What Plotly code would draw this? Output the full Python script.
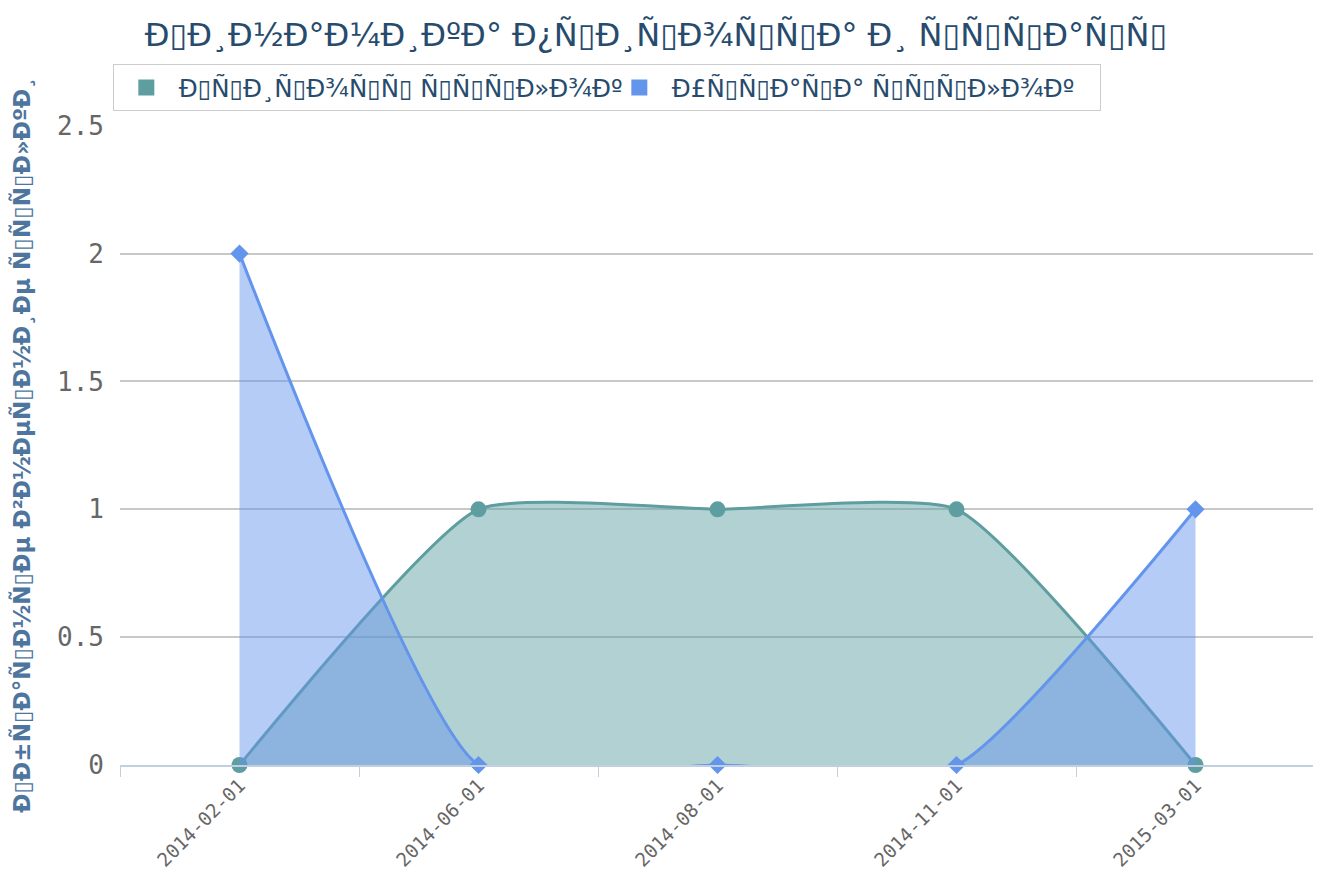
import plotly.graph_objects as go

def moj(s):
    # UTF-8 bytes read as Latin-1; C1 control bytes show as tofu boxes
    out = s.encode("utf-8").decode("latin-1")
    return "".join("\u25af" if 0x80 <= ord(c) <= 0x9f else c for c in out)

categories = ["2014-02-01", "2014-06-01", "2014-08-01", "2014-11-01", "2015-03-01"]
gain_values = [0, 1, 1, 1, 0]
loss_values = [2, 0, 0, 0, 1]
gain_name = moj("Прирост ссылок")
loss_name = moj("Утрата ссылок")
title_l1 = moj("Динамика прироста и утраты")
title_l2 = moj("ссылок")
y_title = moj("Обратные внешние ссылки")
y_ticks = [0, 0.5, 1, 1.5, 2, 2.5]
y_ticktext = ["0", "0.5", "1", "1.5", "2", "2.5"]

TEAL = "#5F9EA0"
BLUE = "#6495ED"
TITLE_COLOR = "#274b6d"

fig = go.Figure()
fig.add_trace(go.Scatter(
    x=categories, y=gain_values, name=gain_name, mode="lines+markers",
    line=dict(color=TEAL, width=3, shape="spline", smoothing=0.5),
    marker=dict(symbol="circle", size=16, color=TEAL),
    fill="tozeroy", fillcolor="rgba(95,158,160,0.48)", showlegend=False,
    cliponaxis=False,
))
fig.add_trace(go.Scatter(
    x=categories, y=loss_values, name=loss_name, mode="lines+markers",
    line=dict(color=BLUE, width=3, shape="spline", smoothing=0.5),
    marker=dict(symbol="diamond", size=14, color=BLUE),
    fill="tozeroy", fillcolor="rgba(100,149,237,0.48)", showlegend=False,
    cliponaxis=False,
))
# legend entries (square swatches as in the reference)
for nm, col in [(gain_name, TEAL), (loss_name, BLUE)]:
    fig.add_trace(go.Scatter(
        x=[None], y=[None], name=nm, mode="markers",
        marker=dict(symbol="square", size=22, color=col), showlegend=True,
    ))
# second title line: drawn beneath the legend box, as in the reference
fig.add_trace(go.Scatter(
    x=[0.4485], y=[1.083], xaxis="x2", yaxis="y2", mode="text",
    text=[title_l2], textposition="middle center", cliponaxis=False,
    textfont=dict(family="DejaVu Sans", size=32, color=TITLE_COLOR),
    showlegend=False, hoverinfo="skip",
))

fig.update_layout(
    width=1313, height=866,
    margin=dict(l=112, r=6, t=117, b=109, autoexpand=False),
    plot_bgcolor="white", paper_bgcolor="white",
    title=dict(text=title_l1, x=0.4935, xanchor="center",
               xref="container", yref="container", y=0.969, yanchor="middle",
               font=dict(family="DejaVu Sans", size=32, color=TITLE_COLOR)),
    legend=dict(orientation="h", x=-0.006, xanchor="left", y=1.0586, yanchor="middle",
                bgcolor="white", bordercolor="#cccccc", borderwidth=1,
                font=dict(family="DejaVu Sans", size=24.5, color=TITLE_COLOR),
                itemsizing="trace", entrywidth=423, entrywidthmode="pixels",
                itemwidth=55),
    xaxis=dict(
        type="category", range=[-0.5, 4.5], tickson="boundaries", automargin=False,
        ticks="outside", ticklen=10, tickcolor="#C0D0E0", tickwidth=1,
        showline=True, linecolor="#C0D0E0", linewidth=2,
        showgrid=False, tickangle=-45,
        tickfont=dict(family="DejaVu Sans Mono", size=19, color="#666666"),
    ),
    yaxis=dict(
        range=[0, 2.503], tickvals=y_ticks, ticktext=y_ticktext, automargin=False,
        showgrid=True, gridcolor="#C8C8C8", gridwidth=1.5, zeroline=False,
        ticklabelstandoff=15,
        tickfont=dict(family="DejaVu Sans Mono", size=26, color="#666666"),
        title=dict(text="<b>" + y_title + "</b>", standoff=29,
                   font=dict(family="DejaVu Sans", size=23, color="#4d759e")),
    ),
    xaxis2=dict(overlaying="x", range=[0, 1], visible=False, anchor="y2"),
    yaxis2=dict(overlaying="y", range=[0, 1], visible=False, anchor="x2"),
)
fig.write_html("out.html")
